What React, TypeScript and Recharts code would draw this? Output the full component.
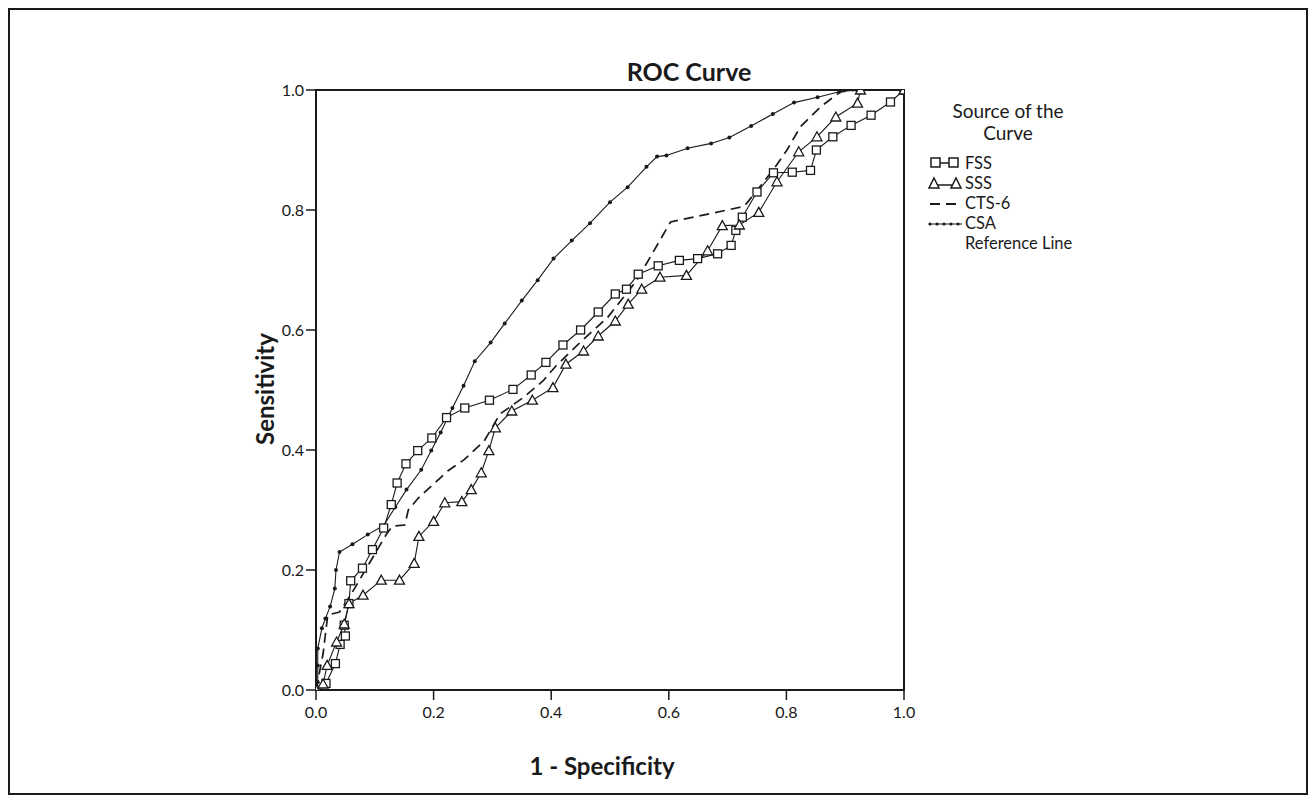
import { LineChart, Line, XAxis, YAxis, ReferenceArea } from "recharts";

const xTicks = [0, 0.2, 0.4, 0.6, 0.8, 1.0];
const yTicks = [0, 0.2, 0.4, 0.6, 0.8, 1.0];

// [1 - specificity, sensitivity]
const fssPoints = [
  [0, 0], [0.017, 0.011], [0.033, 0.044], [0.041, 0.076], [0.05, 0.09], [0.048, 0.108],
  [0.056, 0.144], [0.059, 0.182], [0.079, 0.203], [0.096, 0.234], [0.115, 0.27], [0.128, 0.309],
  [0.138, 0.345], [0.153, 0.377], [0.173, 0.399], [0.197, 0.42], [0.222, 0.454], [0.253, 0.47],
  [0.295, 0.483], [0.335, 0.501], [0.366, 0.525], [0.391, 0.546], [0.42, 0.575], [0.45, 0.6],
  [0.48, 0.63], [0.509, 0.66], [0.528, 0.668], [0.548, 0.693], [0.582, 0.707], [0.618, 0.716],
  [0.649, 0.719], [0.683, 0.727], [0.706, 0.741], [0.714, 0.766], [0.725, 0.788], [0.75, 0.83],
  [0.778, 0.862], [0.81, 0.863], [0.841, 0.866], [0.851, 0.9], [0.879, 0.922], [0.91, 0.941],
  [0.944, 0.958], [0.977, 0.98], [1, 1],
];

const sssPoints = [
  [0, 0], [0.012, 0.01], [0.019, 0.041], [0.035, 0.08], [0.048, 0.11], [0.056, 0.144],
  [0.08, 0.158], [0.111, 0.183], [0.142, 0.183], [0.167, 0.211], [0.175, 0.256], [0.2, 0.281],
  [0.219, 0.312], [0.248, 0.314], [0.264, 0.334], [0.281, 0.362], [0.294, 0.399], [0.305, 0.437],
  [0.333, 0.465], [0.368, 0.483], [0.403, 0.504], [0.425, 0.543], [0.455, 0.565], [0.48, 0.59],
  [0.509, 0.615], [0.531, 0.643], [0.554, 0.668], [0.585, 0.688], [0.63, 0.691], [0.666, 0.732],
  [0.691, 0.774], [0.72, 0.775], [0.753, 0.796], [0.784, 0.847], [0.821, 0.897], [0.852, 0.922],
  [0.884, 0.955], [0.921, 0.978], [0.926, 1.0], [1, 1],
];

const cts6Points = [
  [0, 0], [0.012, 0.06], [0.02, 0.125], [0.04, 0.13], [0.06, 0.16], [0.09, 0.21], [0.12, 0.26],
  [0.13, 0.273], [0.151, 0.275], [0.157, 0.3], [0.174, 0.32], [0.224, 0.365], [0.252, 0.384],
  [0.286, 0.415], [0.313, 0.46], [0.352, 0.487], [0.386, 0.515], [0.408, 0.54], [0.45, 0.58],
  [0.496, 0.621], [0.545, 0.682], [0.603, 0.78], [0.728, 0.806], [0.748, 0.83], [0.779, 0.869],
  [0.801, 0.9], [0.824, 0.939], [0.858, 0.972], [0.892, 0.997], [0.92, 1], [1, 1],
];

const csaPoints = [
  [0, 0], [0.003, 0.013], [0.003, 0.041], [0.003, 0.069], [0.01, 0.103], [0.016, 0.119],
  [0.024, 0.139], [0.032, 0.169], [0.034, 0.2], [0.04, 0.23], [0.062, 0.243], [0.088, 0.259],
  [0.115, 0.274], [0.135, 0.305], [0.154, 0.334], [0.179, 0.367], [0.196, 0.399], [0.212, 0.429],
  [0.232, 0.47], [0.251, 0.507], [0.27, 0.548], [0.297, 0.579], [0.321, 0.611], [0.35, 0.649],
  [0.377, 0.683], [0.404, 0.719], [0.435, 0.749], [0.466, 0.778], [0.5, 0.813], [0.53, 0.838],
  [0.562, 0.872], [0.58, 0.889], [0.596, 0.891], [0.632, 0.903], [0.672, 0.911], [0.703, 0.921],
  [0.74, 0.94], [0.777, 0.96], [0.813, 0.979], [0.853, 0.988], [0.89, 0.997], [0.92, 1], [1, 1],
];

const legendItems = ["FSS", "SSS", "CTS-6", "CSA", "Reference Line"];

const toRows = (pts: number[][]) => pts.map(([x, y]) => ({ x, y }));

const INK = "#1a1a1a";
const FONT = "Lato, 'Open Sans', sans-serif";

const squareDot = (p: any) => {
  const { cx, cy, index } = p;
  if (cx == null || cy == null) return <g key={`fss-${index}`} />;
  return (
    <rect key={`fss-${index}`} x={cx - 4} y={cy - 4} width={8} height={8}
      fill="#fff" stroke={INK} strokeWidth={1.3} />
  );
};

const triangleDot = (p: any) => {
  const { cx, cy, index } = p;
  if (cx == null || cy == null) return <g key={`sss-${index}`} />;
  return (
    <path key={`sss-${index}`} d={`M${cx},${cy - 5}L${cx + 5},${cy + 4}L${cx - 5},${cy + 4}Z`}
      fill="#fff" stroke={INK} strokeWidth={1.3} />
  );
};

const smallDot = (p: any) => {
  const { cx, cy, index } = p;
  if (cx == null || cy == null) return <g key={`csa-${index}`} />;
  return <circle key={`csa-${index}`} cx={cx} cy={cy} r={2} fill={INK} />;
};

function LegendSymbol({ name }: { name: string }) {
  return (
    <svg width={36} height={14} style={{ display: "block" }}>
      {name === "FSS" && (
        <g stroke={INK} strokeWidth={1.5} fill="#fff">
          <line x1={3} y1={7} x2={30} y2={7} />
          <rect x={3} y={2} width={9} height={9} />
          <rect x={21} y={2} width={9} height={9} />
        </g>
      )}
      {name === "SSS" && (
        <g stroke={INK} strokeWidth={1.5} fill="#fff">
          <line x1={6} y1={9} x2={28} y2={9} />
          <path d="M6,2L11,12L1,12Z" />
          <path d="M28,2L33,12L23,12Z" />
        </g>
      )}
      {name === "CTS-6" && (
        <line x1={2} y1={8} x2={34} y2={8} stroke={INK} strokeWidth={1.8} strokeDasharray="10 6" />
      )}
      {name === "CSA" && (
        <g>
          <line x1={1} y1={8} x2={34} y2={8} stroke={INK} strokeWidth={1} />
          {[2, 9, 16, 23, 30].map((x) => (
            <circle key={x} cx={x} cy={8} r={1.6} fill={INK} />
          ))}
        </g>
      )}
    </svg>
  );
}

export default function App() {
  return (
    <div style={{ position: "relative", width: 1300, height: 787, fontFamily: FONT, color: INK, background: "#fff" }}>
      <div style={{ position: "absolute", left: 0, top: 0, width: 1296, height: 783, border: `2px solid ${INK}` }} />
      <LineChart width={1300} height={787} margin={{ top: 82, right: 404, bottom: 45, left: 248 }}>
        <XAxis
          type="number" dataKey="x" domain={[0, 1]} ticks={xTicks} height={60}
          tickFormatter={(v: number) => v.toFixed(1)}
          tick={{ fontSize: 16, fill: INK, fontFamily: FONT }}
          tickSize={10} tickMargin={7}
          axisLine={{ stroke: INK, strokeWidth: 2 }} tickLine={{ stroke: INK, strokeWidth: 1.5 }}
          allowDataOverflow
        />
        <YAxis
          type="number" dataKey="y" domain={[0, 1]} ticks={yTicks} width={60}
          tickFormatter={(v: number) => v.toFixed(1)}
          tick={{ fontSize: 16, fill: INK, fontFamily: FONT }}
          tickSize={10} tickMargin={2}
          axisLine={{ stroke: INK, strokeWidth: 2 }} tickLine={{ stroke: INK, strokeWidth: 1.5 }}
          allowDataOverflow
        />
        <ReferenceArea x1={0} x2={1} y1={0} y2={1} fill="none" stroke={INK} strokeWidth={2} ifOverflow="visible" />
        <Line data={toRows(cts6Points)} dataKey="y" type="linear" stroke={INK} strokeWidth={1.7}
          strokeDasharray="10 6" dot={false} isAnimationActive={false} />
        <Line data={toRows(csaPoints)} dataKey="y" type="linear" stroke={INK} strokeWidth={1.1}
          dot={smallDot} isAnimationActive={false} />
        <Line data={toRows(fssPoints)} dataKey="y" type="linear" stroke={INK} strokeWidth={1.1}
          dot={squareDot} isAnimationActive={false} />
        <Line data={toRows(sssPoints)} dataKey="y" type="linear" stroke={INK} strokeWidth={1.1}
          dot={triangleDot} isAnimationActive={false} />
      </LineChart>

      <div style={{ position: "absolute", left: 481, top: 48, width: 400, textAlign: "center", fontSize: 25, fontWeight: 700, lineHeight: "30px" }}>
        ROC Curve
      </div>
      <div style={{ position: "absolute", left: 394, top: 743, width: 400, textAlign: "center", fontSize: 24, fontWeight: 700, lineHeight: "30px" }}>
        1 - Specificity
      </div>
      <div style={{ position: "absolute", left: 257, top: 381, width: 0, height: 0 }}>
        <div style={{ position: "absolute", left: -100, top: -15, width: 200, textAlign: "center", fontSize: 24, fontWeight: 700, lineHeight: "30px", transform: "rotate(-90deg)" }}>
          Sensitivity
        </div>
      </div>

      <div style={{ position: "absolute", left: 900, top: 92, width: 200, textAlign: "center", fontSize: 19, lineHeight: "22px" }}>
        <div>Source of the</div>
        <div>Curve</div>
      </div>
      <div style={{ position: "absolute", left: 920, top: 145 }}>
        {legendItems.map((name) => (
          <div key={name} style={{ display: "flex", alignItems: "center", height: 20, lineHeight: "20px", fontSize: 16.5 }}>
            <div style={{ width: 37 }}>
              <LegendSymbol name={name} />
            </div>
            <span>{name}</span>
          </div>
        ))}
      </div>
    </div>
  );
}
